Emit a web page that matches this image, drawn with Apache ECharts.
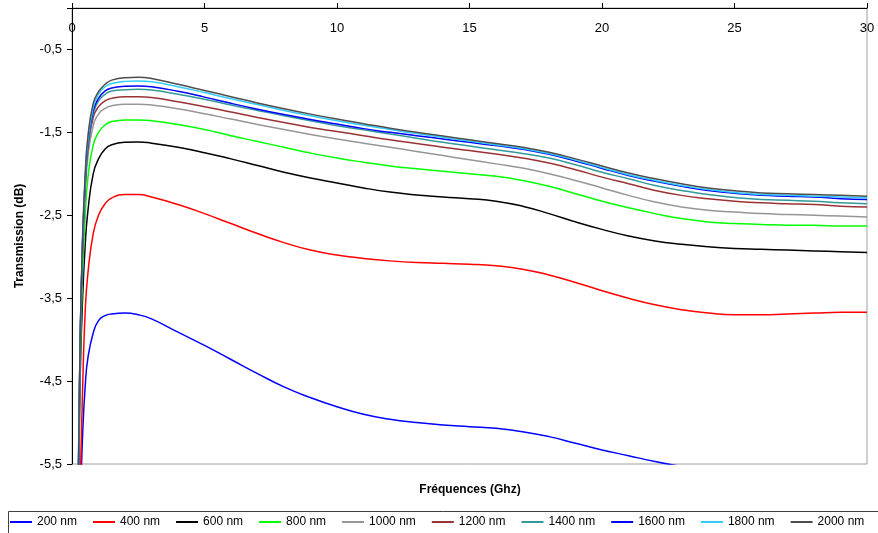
<!DOCTYPE html>
<html><head><meta charset="utf-8">
<script src="https://cdn.jsdelivr.net/npm/echarts@6/dist/echarts.min.js"></script>
<style>html,body{margin:0;padding:0;background:#fff}#c{width:878px;height:533px}</style>
</head><body><div id="c"></div>
<script>
// Frequencies (GHz)
const freq = [0.2,0.3,0.4,0.5,0.6,0.8,1,1.25,1.5,2,2.5,3,4,5,6,7,8,9,10,11,12,13,14,15,16,17,18,19,20,21,22,23,24,25,26,27,28,29,30];
const seriesNames = ['200 nm','400 nm','600 nm','800 nm','1000 nm','1200 nm','1400 nm','1600 nm','1800 nm','2000 nm'];
// Transmission (dB)
const nm200 = [-7.5,-6.2,-5.15,-4.55,-4.22,-3.92,-3.77,-3.71,-3.69,-3.68,-3.70,-3.75,-3.91,-4.07,-4.24,-4.41,-4.57,-4.70,-4.81,-4.90,-4.96,-5.00,-5.03,-5.05,-5.07,-5.11,-5.17,-5.25,-5.33,-5.40,-5.47,-5.53,-5.58,-5.62,-5.64,-5.66,-5.66,-5.65,-5.64];
const nm400 = [-8.0,-6.0,-4.6,-3.65,-3.2,-2.72,-2.5,-2.36,-2.29,-2.25,-2.25,-2.28,-2.37,-2.48,-2.60,-2.72,-2.83,-2.92,-2.98,-3.02,-3.05,-3.07,-3.08,-3.09,-3.11,-3.15,-3.22,-3.31,-3.41,-3.50,-3.58,-3.64,-3.68,-3.70,-3.70,-3.69,-3.68,-3.67,-3.67];
const nm600 = [-6.8,-4.6,-3.5,-2.85,-2.45,-2.0,-1.82,-1.70,-1.65,-1.62,-1.615,-1.63,-1.68,-1.745,-1.82,-1.90,-1.98,-2.05,-2.11,-2.17,-2.22,-2.255,-2.28,-2.30,-2.33,-2.39,-2.48,-2.58,-2.67,-2.75,-2.81,-2.85,-2.88,-2.90,-2.91,-2.92,-2.93,-2.94,-2.95];
const nm800 = [-6.7,-4.4,-3.2,-2.5,-2.05,-1.65,-1.5,-1.41,-1.37,-1.35,-1.35,-1.36,-1.405,-1.465,-1.54,-1.61,-1.68,-1.75,-1.81,-1.86,-1.905,-1.94,-1.97,-2.00,-2.03,-2.08,-2.15,-2.24,-2.33,-2.41,-2.48,-2.54,-2.58,-2.60,-2.61,-2.62,-2.62,-2.63,-2.63];
const nm1000 = [-6.7,-4.3,-3.0,-2.25,-1.8,-1.42,-1.28,-1.21,-1.18,-1.16,-1.16,-1.17,-1.215,-1.275,-1.34,-1.405,-1.465,-1.525,-1.58,-1.63,-1.68,-1.73,-1.78,-1.83,-1.88,-1.93,-2.00,-2.08,-2.17,-2.26,-2.34,-2.40,-2.44,-2.46,-2.48,-2.49,-2.50,-2.51,-2.52];
const nm1200 = [-6.8,-4.2,-2.9,-2.15,-1.7,-1.32,-1.19,-1.12,-1.09,-1.07,-1.07,-1.08,-1.13,-1.19,-1.255,-1.32,-1.38,-1.44,-1.49,-1.54,-1.59,-1.635,-1.68,-1.72,-1.76,-1.81,-1.87,-1.95,-2.04,-2.12,-2.20,-2.26,-2.30,-2.33,-2.35,-2.36,-2.37,-2.39,-2.40];
const nm1400 = [-6.8,-4.2,-2.85,-2.1,-1.66,-1.27,-1.12,-1.04,-1.0,-0.985,-0.98,-0.99,-1.04,-1.10,-1.17,-1.235,-1.30,-1.36,-1.42,-1.47,-1.52,-1.57,-1.62,-1.665,-1.71,-1.755,-1.81,-1.89,-1.98,-2.06,-2.14,-2.20,-2.25,-2.285,-2.31,-2.32,-2.33,-2.35,-2.36];
const nm1600 = [-6.7,-4.15,-2.82,-2.07,-1.63,-1.24,-1.09,-1.0,-0.965,-0.945,-0.94,-0.95,-1.005,-1.075,-1.15,-1.22,-1.285,-1.345,-1.40,-1.455,-1.50,-1.54,-1.58,-1.62,-1.66,-1.705,-1.765,-1.845,-1.935,-2.02,-2.09,-2.15,-2.20,-2.235,-2.26,-2.27,-2.28,-2.30,-2.31];
const nm1800 = [-6.6,-4.15,-2.8,-2.05,-1.6,-1.2,-1.04,-0.95,-0.91,-0.885,-0.88,-0.89,-0.95,-1.02,-1.095,-1.165,-1.235,-1.30,-1.36,-1.415,-1.465,-1.515,-1.56,-1.605,-1.65,-1.695,-1.755,-1.835,-1.925,-2.01,-2.08,-2.14,-2.19,-2.225,-2.25,-2.26,-2.27,-2.28,-2.29];
const nm2000 = [-6.5,-4.1,-2.75,-2.0,-1.55,-1.15,-1.01,-0.92,-0.87,-0.84,-0.835,-0.85,-0.92,-0.995,-1.07,-1.145,-1.215,-1.28,-1.34,-1.395,-1.45,-1.50,-1.545,-1.59,-1.635,-1.68,-1.74,-1.82,-1.905,-1.99,-2.06,-2.12,-2.17,-2.205,-2.23,-2.24,-2.25,-2.26,-2.27];
const allValues = [nm200,nm400,nm600,nm800,nm1000,nm1200,nm1400,nm1600,nm1800,nm2000];
const colors = ['#0000ff','#ff0000','#000000','#00ff00','#969696','#993333','#339999','#0000ff','#33ccff','#4d4d4d'];

const FONT = '"Liberation Sans", Arial, sans-serif';
const chart = echarts.init(document.getElementById('c'), null, {renderer:'canvas'});
const fmt = v => Math.abs(v) < 1e-9 ? '' : v.toFixed(1).replace('.', ',');
const option = {
  animation: false,
  textStyle: {fontFamily: FONT},
  grid: {left:72, right:11, top:8, bottom:69, show:true, borderColor:'#a0a0a0', borderWidth:1, backgroundColor:'#fff'},
  xAxis: {
    type:'value', min:0, max:30, interval:5, position:'top',
    axisLine:{onZero:false, lineStyle:{color:'#000', width:1}},
    axisTick:{show:true, inside:false, length:5, lineStyle:{color:'#000'}},
    axisLabel:{inside:true, margin:14, fontSize:13, color:'#000', fontFamily:FONT},
    splitLine:{show:false}
  },
  yAxis: {
    type:'value', min:-5.5, max:0, interval:1,
    axisLine:{show:true, onZero:false, lineStyle:{color:'#000', width:1}},
    axisTick:{show:true, length:5, lineStyle:{color:'#000'}},
    axisLabel:{formatter:fmt, fontSize:13, color:'#000', margin:10, fontFamily:FONT},
    splitLine:{show:false},
    name:'Transmission (dB)', nameLocation:'middle', nameGap:46, nameRotate:90,
    nameTextStyle:{fontWeight:'bold', fontSize:12, color:'#000', fontFamily:FONT}
  },
  legend: {
    left:10, top:516, padding:0, itemWidth:22, itemHeight:2, itemGap:16, icon:'rect',
    textStyle:{fontSize:12, color:'#000', fontFamily:FONT},
    data: seriesNames
  },
  graphic: [
    {type:'rect', shape:{x:8.5, y:511.5, width:900, height:40}, style:{fill:'none', stroke:'#404040', lineWidth:1}, z:-1},
    {type:'text', x:470, y:490, style:{text:'Fréquences (Ghz)', align:'center', verticalAlign:'middle', fontSize:12, fontWeight:'bold', fontFamily:FONT, fill:'#000'}}
  ],
  series: allValues.map((vals, i) => ({
    name: seriesNames[i], type:'line', symbol:'none', smooth:0.5, clip:true,
    color: colors[i],
    lineStyle:{width:1.5, color:colors[i]},
    data: freq.map((f, j) => [f, vals[j]])
  }))
};
chart.setOption(option);
</script>
</body></html>
